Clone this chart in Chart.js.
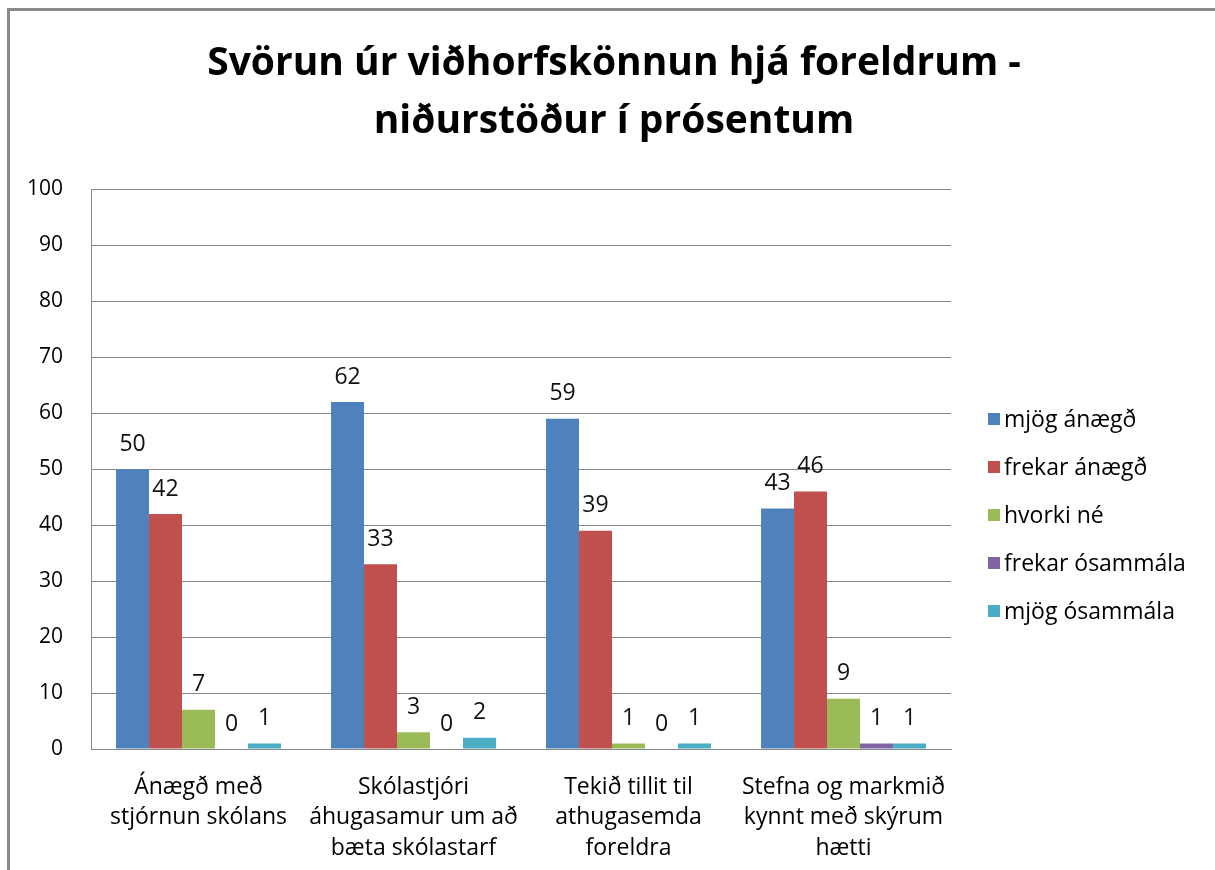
<!DOCTYPE html>
<html>
<head>
<meta charset="utf-8">
<script src="https://cdn.jsdelivr.net/npm/chart.js@4.4.1/dist/chart.umd.min.js"></script>
<style>
  html, body { margin: 0; padding: 0; background: #fff; }
  #wrap { position: relative; width: 1215px; height: 870px; overflow: hidden; }
  #frame { position: absolute; left: 7px; top: 8px; width: 1300px; height: 1000px;
           border-left: 3px solid #8a8a8a; border-top: 3px solid #8a8a8a; }
  #myChart { position: absolute; left: 0; top: 0; }
</style>
</head>
<body>
<div id="wrap">
  <div id="frame"></div>
  <canvas id="myChart" width="1215" height="870"></canvas>
</div>
<script>
const categories = [
  ["Ánægð með", "stjórnun skólans"],
  ["Skólastjóri", "áhugasamur um að", "bæta skólastarf"],
  ["Tekið tillit til", "athugasemda", "foreldra"],
  ["Stefna og markmið", "kynnt með skýrum", "hætti"],
];
const seriesNames = ["mjög ánægð", "frekar ánægð", "hvorki né", "frekar ósammála", "mjög ósammála"];
const mjogAnaegd = [50, 62, 59, 43];
const frekarAnaegd = [42, 33, 39, 46];
const hvorkiNe = [7, 3, 1, 9];
const frekarOsammala = [0, 0, 0, 1];
const mjogOsammala = [1, 2, 1, 1];
const yTicks = [0, 10, 20, 30, 40, 50, 60, 70, 80, 90, 100];

const colors = ["#4F81BD", "#C0504D", "#9BBB59", "#8064A2", "#4BACC6"];
const values = [mjogAnaegd, frekarAnaegd, hvorkiNe, frekarOsammala, mjogOsammala];

const FONT = "'Open Sans', Lato, sans-serif";
Chart.defaults.font.family = FONT;
Chart.defaults.color = "#000";

// value labels above each bar
const valueLabels = {
  id: "valueLabels",
  afterDatasetsDraw(chart) {
    const ctx = chart.ctx;
    ctx.save();
    ctx.font = "23px " + FONT;
    ctx.fillStyle = "#111";
    ctx.textAlign = "center";
    ctx.textBaseline = "middle";
    chart.data.datasets.forEach((ds, i) => {
      chart.getDatasetMeta(i).data.forEach((bar, j) => {
        ctx.fillText(String(ds.data[j]), bar.x, bar.y - 25);
      });
    });
    ctx.restore();
  },
};

// legend on the right, as its own layout box
const sideLegend = {
  id: "sideLegend",
  beforeInit(chart) {
    const box = {
      position: "right",
      weight: 0,
      fullSize: false,
      options: {},
      isHorizontal() { return false; },
      update(maxWidth, maxHeight) { this.width = 264; this.height = maxHeight; },
      draw() {
        const ctx = chart.ctx;
        ctx.save();
        ctx.font = "23px " + FONT;
        ctx.textBaseline = "middle";
        chart.data.datasets.forEach((ds, i) => {
          const y = 419 + i * 48;
          ctx.fillStyle = ds.backgroundColor;
          ctx.fillRect(this.left + 37, y - 6, 12, 12);
          ctx.fillStyle = "#000";
          ctx.fillText(ds.label, this.left + 53, y + 1);
        });
        ctx.restore();
      },
    };
    Chart.layouts.addBox(chart, box);
  },
};

const config = {
  type: "bar",
  data: {
    labels: categories,
    datasets: seriesNames.map((name, i) => ({
      label: name,
      data: values[i],
      backgroundColor: colors[i],
      borderWidth: 0,
      categoryPercentage: 0.767,
      barPercentage: 1.0,
    })),
  },
  options: {
    responsive: false,
    animation: false,
    layout: { padding: { left: 13, right: 0, top: 0, bottom: 0 } },
    plugins: {
      legend: { display: false },
      tooltip: { enabled: false },
      title: {
        display: true,
        text: ["Svörun úr viðhorfskönnun hjá foreldrum -", "niðurstöður í prósentum"],
        color: "#000",
        font: { size: 39, weight: "bold", lineHeight: 1.48 },
        padding: { top: 35, bottom: 39 },
      },
    },
    scales: {
      x: {
        grid: { display: false, drawTicks: false },
        border: { display: true, color: "#878787", width: 1 },
        ticks: { padding: 23, font: { size: 23, lineHeight: 1.33 }, maxRotation: 0, autoSkip: false },
        afterFit(scale) { scale.height = 121; },
      },
      y: {
        min: 0,
        max: 100,
        afterBuildTicks(scale) { scale.ticks = yTicks.map((v) => ({ value: v })); },
        grid: { color: "#878787", lineWidth: 1, drawTicks: false },
        border: { display: true, color: "#878787", width: 1 },
        ticks: { padding: 28, font: { size: 21 } },
        afterFit(scale) { scale.width = 78; },
      },
    },
  },
  plugins: [valueLabels, sideLegend],
};

const myChart = new Chart(document.getElementById("myChart"), config);
</script>
</body>
</html>
